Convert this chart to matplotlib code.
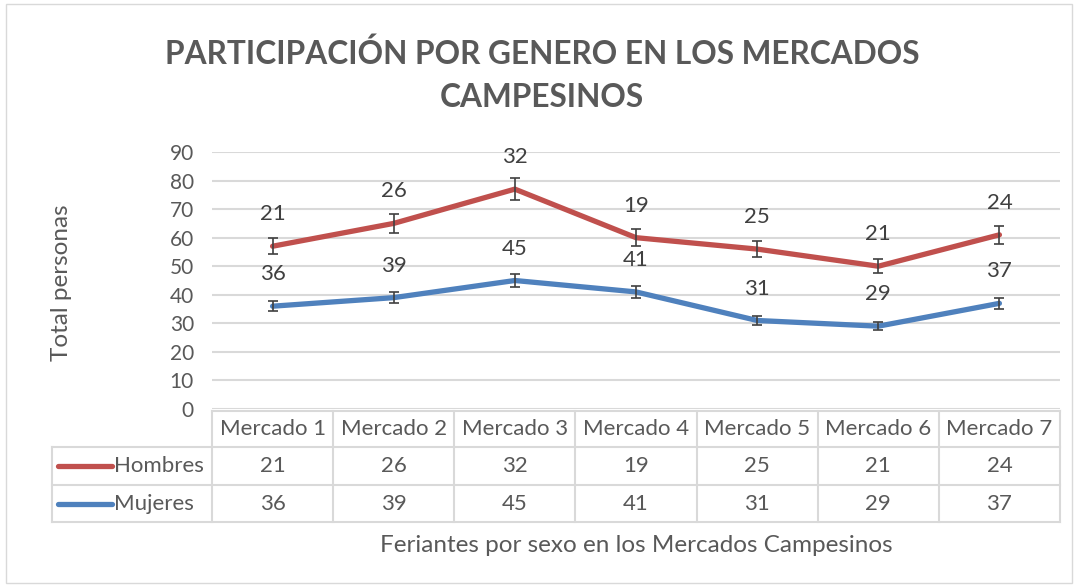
import matplotlib
matplotlib.use("Agg")
import matplotlib.pyplot as plt
import matplotlib.transforms as mtransforms
from matplotlib.patches import Rectangle
import numpy as np

plt.rcParams['font.family'] = ['Lato', 'DejaVu Sans']

# Data
mercados = ["Mercado 1", "Mercado 2", "Mercado 3", "Mercado 4",
            "Mercado 5", "Mercado 6", "Mercado 7"]
hombres = [21, 26, 32, 19, 25, 21, 24]
mujeres = [36, 39, 45, 41, 31, 29, 37]
y_ticks = [0, 10, 20, 30, 40, 50, 60, 70, 80, 90]
error_pct = 0.05

title = "PARTICIPACIÓN POR GENERO EN LOS MERCADOS\nCAMPESINOS"
y_title = "Total personas"
x_title = "Feriantes por sexo en los Mercados Campesinos"

RED = "#C0504D"
BLUE = "#4F81BD"
GRID = "#D9D9D9"
TXT = "#595959"
LBL = "#404040"

W, H = 1078, 587
fig = plt.figure(figsize=(W / 100, H / 100), dpi=100)
fig.patch.set_facecolor("white")

# chart area border
fig.add_artist(Rectangle((6 / W, 4 / H), (W - 12) / W, (H - 8) / H,
                         transform=fig.transFigure, fill=False,
                         edgecolor=GRID, lw=1.0))

px_l, px_r, px_t, px_b = 212, 1060, 152, 409
ax = fig.add_axes([px_l / W, 1 - px_b / H, (px_r - px_l) / W, (px_b - px_t) / H])

x = np.arange(len(mercados))
mujeres_arr = np.array(mujeres, dtype=float)
stack_h = mujeres_arr + np.array(hombres, dtype=float)

ax.set_xlim(-0.5, len(mercados) - 0.5)
ax.set_ylim(0, 90)
ax.set_yticks(y_ticks)
ax.set_yticklabels([str(t) for t in y_ticks], fontsize=15, color=TXT)
ax.tick_params(axis='y', length=0, pad=13)
ax.set_xticks([])
for s in ax.spines.values():
    s.set_visible(False)
ax.grid(axis='y', color=GRID, lw=1.5)
ax.set_axisbelow(True)

for vals, labels, col in [(stack_h, hombres, RED), (mujeres_arr, mujeres, BLUE)]:
    ax.plot(x, vals, color=col, lw=3.8, solid_capstyle='round', zorder=3)
    ax.errorbar(x, vals, yerr=vals * error_pct, fmt='none', ecolor=LBL,
                elinewidth=1.2, capsize=3.8, capthick=1.2, zorder=4)
    for xi, yi, lab in zip(x, vals, labels):
        ax.annotate(str(lab), (xi, yi), xytext=(0, 23), textcoords='offset points',
                    ha='center', va='center', fontsize=16, color=LBL)

# Data table below the plot area
trans = mtransforms.blended_transform_factory(ax.transData, ax.transAxes)
axh = px_b - px_t
row_edges_px = [411, 447, 485, 522]
rows = [-(r - px_b) / axh for r in row_edges_px]
col_w_px = (px_r - px_l) / len(mercados)
leg_left = -0.5 - (px_l - 52) / col_w_px
n = len(mercados)

def hline(x0, x1, y):
    ax.plot([x0, x1], [y, y], color=GRID, lw=1.5, transform=trans, clip_on=False)

def vline(xv, y0, y1):
    ax.plot([xv, xv], [y0, y1], color=GRID, lw=1.5, transform=trans, clip_on=False)

hline(-0.5, n - 0.5, rows[0])
for r in rows[1:]:
    hline(leg_left, n - 0.5, r)
for b in np.arange(n + 1) - 0.5:
    vline(b, rows[0], rows[3])
vline(leg_left, rows[1], rows[3])

def mid(i):
    return (rows[i] + rows[i + 1]) / 2

for xi, m in zip(x, mercados):
    ax.text(xi, mid(0), m, transform=trans, ha='center', va='center',
            fontsize=16, color=TXT)
for ri, (vals, col, name) in enumerate([(hombres, RED, "Hombres"),
                                        (mujeres, BLUE, "Mujeres")], start=1):
    for xi, v in zip(x, vals):
        ax.text(xi, mid(ri), str(v), transform=trans, ha='center', va='center',
                fontsize=16, color=TXT)
    x0 = leg_left + 6 / col_w_px
    x1 = leg_left + 60 / col_w_px
    ax.plot([x0, x1], [mid(ri), mid(ri)], color=col, lw=3.8,
            solid_capstyle='round', transform=trans, clip_on=False)
    ax.text(x1 + 2 / col_w_px, mid(ri), name, transform=trans, ha='left',
            va='center', fontsize=16, color=TXT)

fig.text(542 / W, 1 - 75 / H, title, ha='center', va='center', fontsize=22.8,
         fontweight='bold', color=TXT, linespacing=1.6)
fig.text(62 / W, 1 - 283 / H, y_title, rotation=90, ha='center', va='center',
         fontsize=17.5, color=TXT)
fig.text(636 / W, 1 - 545 / H, x_title, ha='center', va='center',
         fontsize=17.5, color=TXT)

fig.savefig("out.png", dpi=100, facecolor="white")
